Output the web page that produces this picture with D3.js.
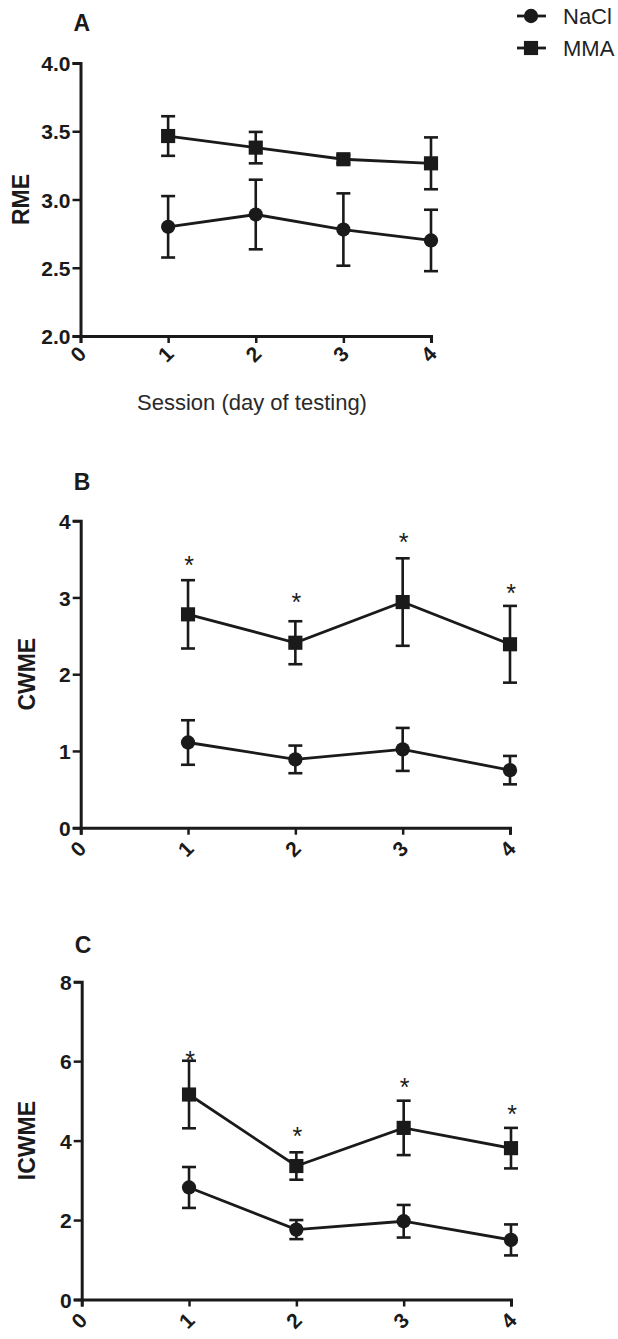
<!DOCTYPE html>
<html>
<head>
  <meta charset="UTF-8">
  <title>RME / CWME / ICWME by session</title>
  <style>
    body { margin: 0; background: #fff; }
    svg { display: block; font-family: 'Liberation Sans', Arial, sans-serif; }
  </style>
</head>
<body>
  <svg width="618" height="1339"></svg>

  <script src="https://d3js.org/d3.v7.min.js"></script>
  <script>
    // Session numbers and x tick labels (shared by all panels)
    const sessions = [1, 2, 3, 4];
    const xTicks = [0, 1, 2, 3, 4];

    // Panel A - RME
    const rmeTicks = [2.0, 2.5, 3.0, 3.5, 4.0];
    const rmeNaCl = [2.80, 2.89, 2.78, 2.70];
    const rmeNaClSem = [0.225, 0.255, 0.265, 0.225];
    const rmeMMA = [3.465, 3.38, 3.295, 3.265];
    const rmeMMASem = [0.145, 0.115, 0.03, 0.19];

    // Panel B - CWME
    const cwmeTicks = [0, 1, 2, 3, 4];
    const cwmeNaCl = [1.11, 0.89, 1.02, 0.75];
    const cwmeNaClSem = [0.29, 0.18, 0.28, 0.185];
    const cwmeMMA = [2.78, 2.41, 2.94, 2.39];
    const cwmeMMASem = [0.445, 0.28, 0.57, 0.50];
    const cwmeStars = [3.49, 3.01, 3.79, 3.12];

    // Panel C - ICWME
    const icwmeTicks = [0, 2, 4, 6, 8];
    const icwmeNaCl = [2.82, 1.76, 1.97, 1.50];
    const icwmeNaClSem = [0.515, 0.24, 0.41, 0.39];
    const icwmeMMA = [5.16, 3.36, 4.32, 3.81];
    const icwmeMMASem = [0.85, 0.345, 0.685, 0.51];
    const icwmeStars = [6.15, 4.26, 5.48, 4.81];

    const ink = '#1a1a1a';
    const svg = d3.select('svg');

    const circleSym = d3.symbol().type(d3.symbolCircle).size(160);
    const squareSym = d3.symbol().type(d3.symbolSquare).size(200);

    function drawPanel(p) {
      const xScale = d3.scaleLinear().domain([0, 4]).range([p.left, p.right]);
      const yScale = d3.scaleLinear().domain(p.yDomain).range([p.bottom, p.top]);
      const g = svg.append('g');

      // y axis
      const yAxis = g.append('g')
        .attr('transform', `translate(${p.left}, 0)`)
        .call(d3.axisLeft(yScale).tickValues(p.yTicks).tickFormat(d3.format(p.yFormat))
          .tickSize(8).tickPadding(2));
      // x axis
      const xAxis = g.append('g')
        .attr('transform', `translate(0, ${p.bottom})`)
        .call(d3.axisBottom(xScale).tickValues(xTicks).tickFormat(d3.format('d'))
          .tickSize(7));

      [yAxis, xAxis].forEach(ax => {
        ax.select('.domain').attr('stroke', ink).attr('stroke-width', 3);
        ax.selectAll('.tick line').attr('stroke', ink).attr('stroke-width', 2.5);
        ax.selectAll('text').attr('fill', ink).attr('font-weight', 'bold')
          .attr('font-size', '21px').attr('font-family', "'Liberation Sans', Arial, sans-serif");
      });
      yAxis.selectAll('text').attr('dy', '0.36em');

      // rotated x tick labels
      xAxis.selectAll('.tick text')
        .attr('text-anchor', 'middle')
        .attr('dominant-baseline', 'central')
        .attr('dy', null)
        .attr('y', 0)
        .attr('transform', `translate(-3, ${p.xLabelDy}) rotate(-45)`);

      // y axis title
      g.append('text')
        .attr('transform', `translate(${p.titleX}, ${(p.top + p.bottom) / 2}) rotate(-90)`)
        .attr('text-anchor', 'middle')
        .attr('dominant-baseline', 'central')
        .attr('font-size', '23px')
        .attr('font-weight', 'bold')
        .attr('fill', ink)
        .text(p.title);

      // panel letter
      g.append('text')
        .attr('x', p.left - 7)
        .attr('y', p.letterY)
        .attr('font-size', '23px')
        .attr('font-weight', 'bold')
        .attr('fill', ink)
        .text(p.letter);

      const line = d3.line().x((d, i) => xScale(sessions[i])).y(d => yScale(d));

      [[p.nacl, p.naclSem, circleSym], [p.mma, p.mmaSem, squareSym]].forEach(([vals, sem, sym]) => {
        g.append('path')
          .attr('d', line(vals))
          .attr('fill', 'none')
          .attr('stroke', ink)
          .attr('stroke-width', 2.8);

        const bars = g.append('g');
        vals.forEach((v, i) => {
          const x = xScale(sessions[i]);
          const y1 = yScale(v + sem[i]);
          const y0 = yScale(v - sem[i]);
          bars.append('line').attr('x1', x).attr('x2', x).attr('y1', y1).attr('y2', y0)
            .attr('stroke', ink).attr('stroke-width', 2.6);
          [y1, y0].forEach(yy => {
            bars.append('line').attr('x1', x - 7).attr('x2', x + 7).attr('y1', yy).attr('y2', yy)
              .attr('stroke', ink).attr('stroke-width', 2.6);
          });
        });

        g.selectAll(null)
          .data(vals)
          .enter()
          .append('path')
          .attr('d', sym)
          .attr('transform', (d, i) => `translate(${xScale(sessions[i])}, ${yScale(d)})`)
          .attr('fill', ink);
      });

      if (p.stars) {
        g.selectAll(null)
          .data(p.stars)
          .enter()
          .append('text')
          .attr('x', (d, i) => xScale(sessions[i]) + 1)
          .attr('y', d => yScale(d))
          .attr('dy', '0.57em')
          .attr('text-anchor', 'middle')
          .attr('font-size', '25px')
          .attr('fill', ink)
          .text('*');
      }
    }

    drawPanel({
      letter: 'A', letterY: 31, title: 'RME', titleX: 21,
      left: 80.5, right: 431, top: 63, bottom: 336, xLabelDy: 18,
      yDomain: [2, 4], yTicks: rmeTicks, yFormat: '.1f',
      nacl: rmeNaCl, naclSem: rmeNaClSem, mma: rmeMMA, mmaSem: rmeMMASem
    });

    drawPanel({
      letter: 'B', letterY: 490, title: 'CWME', titleX: 27,
      left: 80.7, right: 510, top: 520.7, bottom: 827.7, xLabelDy: 21,
      yDomain: [0, 4], yTicks: cwmeTicks, yFormat: 'd',
      nacl: cwmeNaCl, naclSem: cwmeNaClSem, mma: cwmeMMA, mmaSem: cwmeMMASem,
      stars: cwmeStars
    });

    drawPanel({
      letter: 'C', letterY: 953, title: 'ICWME', titleX: 27,
      left: 81.7, right: 511, top: 981.7, bottom: 1299.5, xLabelDy: 21,
      yDomain: [0, 8], yTicks: icwmeTicks, yFormat: 'd',
      nacl: icwmeNaCl, naclSem: icwmeNaClSem, mma: icwmeMMA, mmaSem: icwmeMMASem,
      stars: icwmeStars
    });

    // x axis title under panel A
    svg.append('text')
      .attr('x', 252)
      .attr('y', 410)
      .attr('text-anchor', 'middle')
      .attr('font-size', '22px')
      .attr('fill', '#2a2a2a')
      .text('Session (day of testing)');

    // legend
    const legendItems = [
      { name: 'NaCl', sym: circleSym, y: 16 },
      { name: 'MMA', sym: squareSym, y: 48 }
    ];
    const legend = svg.append('g');
    legendItems.forEach(item => {
      legend.append('line')
        .attr('x1', 517).attr('x2', 546).attr('y1', item.y).attr('y2', item.y)
        .attr('stroke', ink).attr('stroke-width', 2.8);
      legend.append('path')
        .attr('d', item.sym)
        .attr('transform', `translate(531, ${item.y})`)
        .attr('fill', ink);
      legend.append('text')
        .attr('x', 563)
        .attr('y', item.y + 8)
        .attr('font-size', '22px')
        .attr('fill', '#222')
        .text(item.name);
    });
  </script>
</body>
</html>
